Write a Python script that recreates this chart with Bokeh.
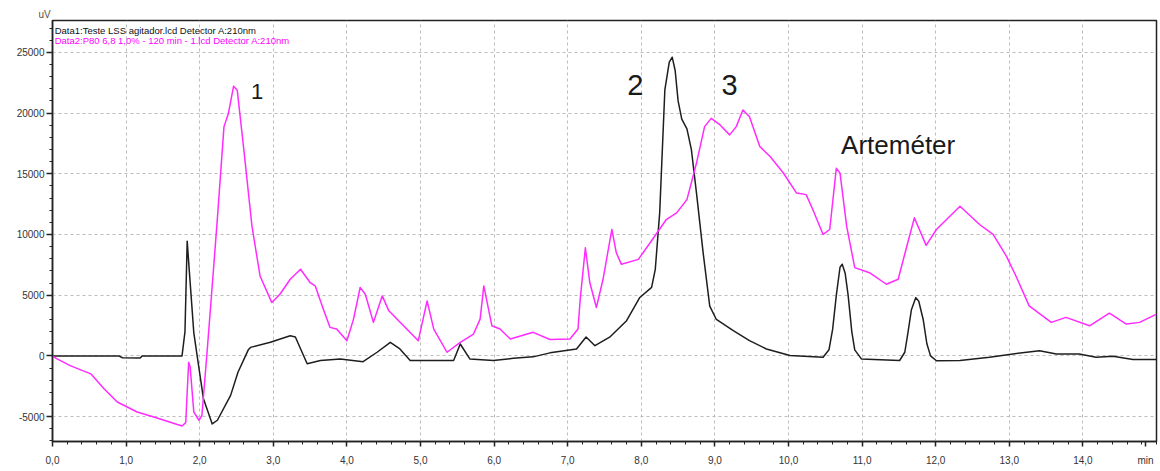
from bokeh.plotting import figure
from bokeh.models import Range1d, FixedTicker, Label, Title
from bokeh.embed import file_html
from bokeh.resources import INLINE

# ---- data ----
t_data1 = [0.00, 0.90, 0.95, 1.19, 1.22, 1.76, 1.80, 1.83, 1.86, 1.92, 2.05, 2.17, 2.24, 2.42,
           2.52, 2.66, 2.69, 2.96, 3.23, 3.30, 3.46, 3.64, 3.91, 4.22, 4.41, 4.59, 4.72, 4.86,
           5.17, 5.45, 5.54, 5.67, 5.99, 6.26, 6.53, 6.76, 7.12, 7.25, 7.37, 7.57, 7.80, 7.98,
           8.14, 8.19, 8.25, 8.32, 8.38, 8.42, 8.46, 8.50, 8.55, 8.62, 8.68, 8.75, 8.84, 8.93,
           9.02, 9.25, 9.47, 9.70, 10.02, 10.47, 10.55, 10.60, 10.65, 10.70, 10.73, 10.77, 10.81,
           10.86, 10.90, 10.99, 11.51, 11.58, 11.62, 11.67, 11.73, 11.77, 11.83, 11.88, 11.93,
           12.01, 12.33, 12.73, 13.05, 13.41, 13.64, 13.95, 14.18, 14.41, 14.68, 15.00]
v_data1 = [0, 0, -150, -180, 0, 0, 2000, 9450, 6900, 1900, -3500, -5600, -5300, -3250,
           -1350, 500, 700, 1120, 1660, 1550, -650, -380, -250, -480, 300, 1120, 570, -380,
           -380, -380, 980, -250, -380, -200, -80, 250, 570, 1550, 840, 1540, 2900, 4810,
           5640, 7130, 11800, 21900, 24200, 24600, 23500, 21000, 19500, 18700, 17000, 13400, 8500, 4100,
           3000, 2080, 1260, 570, 30, -110, 500, 2200, 5000, 7300, 7550, 6800, 5000,
           2000, 500, -250, -380, 300, 1800, 3800, 4800, 4500, 3000, 1000, 0,
           -400, -380, -110, 160, 430, 160, 160, -110, -30, -300, -300]

t_data2 = [0.00, 0.05, 0.24, 0.52, 0.70, 0.88, 1.15, 1.42, 1.76, 1.81, 1.85, 1.87, 1.92, 1.99,
           2.03, 2.10, 2.17, 2.24, 2.33, 2.39, 2.46, 2.51, 2.60, 2.71, 2.82, 2.98, 3.09, 3.23,
           3.37, 3.50, 3.57, 3.68, 3.77, 3.86, 4.00, 4.09, 4.18, 4.25, 4.36, 4.48, 4.57, 4.77,
           4.97, 5.09, 5.18, 5.36, 5.54, 5.72, 5.81, 5.86, 5.97, 6.08, 6.22, 6.53, 6.76, 7.03,
           7.14, 7.17, 7.24, 7.30, 7.39, 7.48, 7.60, 7.66, 7.73, 7.96, 8.12, 8.34, 8.48, 8.62,
           8.75, 8.86, 8.95, 9.07, 9.20, 9.29, 9.38, 9.47, 9.61, 9.75, 9.93, 10.11, 10.24, 10.33,
           10.47, 10.56, 10.65, 10.70, 10.79, 10.90, 11.10, 11.33, 11.49, 11.62, 11.71, 11.87,
           12.01, 12.33, 12.60, 12.78, 12.96, 13.09, 13.27, 13.57, 13.77, 14.09, 14.36, 14.59,
           14.77, 15.00]
v_data2 = [0, -200, -800, -1480, -2700, -3800, -4620, -5110, -5770, -5500, -520, -900, -4620, -5300,
           -4890, 300, 5760, 11300, 18880, 19970, 22200, 21880, 16970, 10680, 6580, 4390, 5080, 6310,
           7130, 6040, 5760, 3850, 2350, 2210, 1250, 3030, 5630, 5080, 2760, 4940, 3710, 2480,
           1250, 4530, 2210, 300, 1120, 1800, 3030, 5760, 2480, 2210, 1390, 1940, 1350, 1390,
           2210, 4670, 8900, 6040, 3990, 6310, 10410, 8500, 7540, 7950, 9320, 11230, 11780, 12870,
           15880, 18880, 19560, 19020, 18200, 18880, 20250, 19700, 17240, 16420, 15060, 13410, 13280, 12050,
           10000, 10410, 15460, 15050, 10680, 7270, 6850, 5900, 6310, 9320, 11370, 9100,
           10410, 12320, 10800, 10000, 8220, 6580, 4120, 2760, 3170, 2480, 3520, 2620,
           2760, 3440]

x_major = [0, 1, 2, 3, 4, 5, 6, 7, 8, 9, 10, 11, 12, 13, 14]
x_labels = ["0,0", "1,0", "2,0", "3,0", "4,0", "5,0", "6,0", "7,0", "8,0", "9,0", "10,0",
            "11,0", "12,0", "13,0", "14,0"]
x_unit = "min"
x_unit_pos = 14.85
y_major = [-5000, 0, 5000, 10000, 15000, 20000, 25000]
y_labels = ["-5000", "0", "5000", "10000", "15000", "20000", "25000"]
y_unit = "uV"

legend1 = "Data1:Teste LSS agitador.lcd Detector A:210nm"
legend2 = "Data2:P80 6,8 1,0% - 120 min - 1.lcd Detector A:210nm"
peak_names = ["1", "2", "3", "Arteméter"]
peak_t = [2.78, 7.92, 9.20, 11.49]
peak_v = [21800, 22340, 22300, 17380]

# ---- figure ----
p = figure(width=1158, height=468, output_backend="svg", toolbar_location=None,
           x_range=Range1d(0, 15), y_range=Range1d(-7050, 27620))
p.min_border_left = 52
p.min_border_right = 2
p.min_border_top = 20
p.min_border_bottom = 25
p.background_fill_color = "white"
p.border_fill_color = "white"
p.outline_line_color = "#222222"
p.outline_line_width = 1.5

p.add_layout(Title(text=y_unit, align="left", offset=-14, standoff=1,
                   text_font="Liberation Sans", text_font_size="10px",
                   text_font_style="normal", text_color="#5a5040"), "above")

xt = FixedTicker(ticks=x_major + [x_unit_pos], minor_ticks=[i * 0.2 for i in range(0, 76)])
xg = FixedTicker(ticks=x_major)
yt = FixedTicker(ticks=y_major, minor_ticks=list(range(-7000, 28000, 1000)))
p.xaxis.ticker = xt
p.yaxis.ticker = yt
p.xgrid.ticker = xg
p.ygrid.ticker = yt
overrides = {k: v for k, v in zip(x_major, x_labels)}
overrides[x_unit_pos] = x_unit
p.xaxis.major_label_overrides = overrides
p.yaxis.major_label_overrides = {k: v for k, v in zip(y_major, y_labels)}

for ax in (p.xaxis, p.yaxis):
    ax.axis_line_color = "#222222"
    ax.axis_line_width = 1.5
    ax.major_tick_line_color = "#222222"
    ax.minor_tick_line_color = "#222222"
    ax.major_tick_line_width = 1.5
    ax.minor_tick_line_width = 1
    ax.major_label_text_font = "Liberation Sans"
    ax.major_label_text_font_size = "10px"
    ax.major_label_text_color = "#333333"
p.xaxis.major_tick_out = 5
p.xaxis.major_tick_in = 0
p.xaxis.minor_tick_out = 3
p.xaxis.minor_tick_in = 0
p.xaxis.major_label_standoff = 8
p.yaxis.major_tick_out = 6
p.yaxis.major_tick_in = 0
p.yaxis.minor_tick_out = 3
p.yaxis.minor_tick_in = 0
p.yaxis.major_label_standoff = 2

for g in (p.xgrid, p.ygrid):
    g.grid_line_color = "#bdbdbd"
    g.grid_line_dash = "3 3"
    g.grid_line_width = 1

p.line(t_data1, v_data1, line_color="#1e1e1e", line_width=1.5, line_join="round")
p.line(t_data2, v_data2, line_color="#ff2bff", line_width=1.5, line_join="round")

# legend-like header texts
p.add_layout(Label(x=0.03, y=26800, text=legend1, text_font="Liberation Sans",
                   text_font_size="9.5px", text_color="#111111", text_baseline="middle"))
p.add_layout(Label(x=0.03, y=25980, text=legend2, text_font="Liberation Sans",
                   text_font_size="9.5px", text_color="#ff00ff", text_baseline="middle"))

# peak annotations
sizes = ["22px", "29px", "29px", "26px"]
for name, tx, vy, fs in zip(peak_names, peak_t, peak_v, sizes):
    p.add_layout(Label(x=tx, y=vy, text=name, text_font="Liberation Sans",
                       text_font_size=fs, text_color="#1a1a1a",
                       text_align="center", text_baseline="middle"))

open("out.html", "w").write(file_html(p, INLINE))
